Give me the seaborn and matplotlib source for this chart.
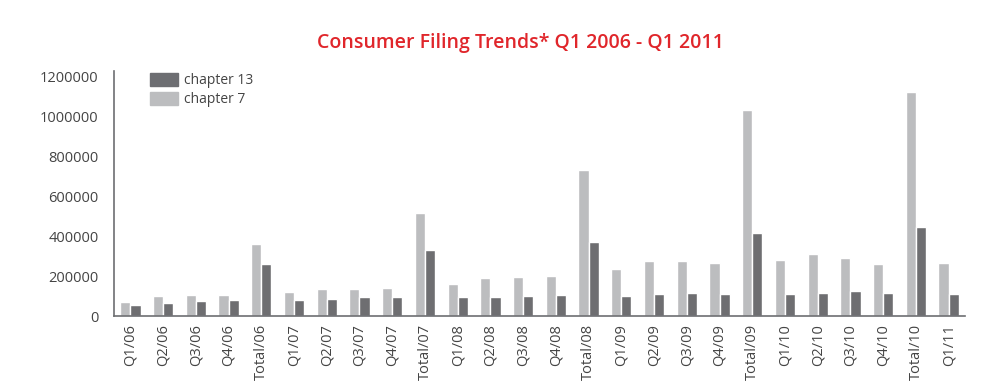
import pandas as pd
import numpy as np
import matplotlib
matplotlib.use("Agg")
import matplotlib.pyplot as plt
import seaborn as sns
from matplotlib.patches import Patch

# --- data ---
periods = ["Q1/06", "Q2/06", "Q3/06", "Q4/06", "Total/06",
           "Q1/07", "Q2/07", "Q3/07", "Q4/07", "Total/07",
           "Q1/08", "Q2/08", "Q3/08", "Q4/08", "Total/08",
           "Q1/09", "Q2/09", "Q3/09", "Q4/09", "Total/09",
           "Q1/10", "Q2/10", "Q3/10", "Q4/10", "Total/10",
           "Q1/11"]
chapter7 = [72500, 99000, 104000, 107500, 361000,
            122500, 137500, 137500, 142500, 516000,
            162500, 192500, 197500, 202500, 732500,
            236000, 277500, 277500, 266000, 1029000,
            282500, 311000, 292500, 261000, 1122500,
            266000]
chapter13 = [56000, 67500, 77500, 82500, 261000,
             82500, 86000, 94000, 96000, 332500,
             94000, 96000, 102500, 106000, 372500,
             101000, 111000, 116000, 112500, 416000,
             109000, 116000, 127500, 116000, 447500,
             109000]
yticks = [0, 200000, 400000, 600000, 800000, 1000000, 1200000]

c7 = "#bcbdbf"
c13 = "#6d6e72"

df = pd.DataFrame({
    "period": periods * 2,
    "filings": chapter7 + chapter13,
    "chapter": ["chapter 7"] * len(periods) + ["chapter 13"] * len(periods),
})

sns.set_style("white")
plt.rcParams["font.family"] = ["Open Sans", "DejaVu Sans"]

fig = plt.figure(figsize=(10, 3.84), dpi=100)
ax = fig.add_axes([0.114, 0.177, 0.851, 0.638])

sns.barplot(data=df, x="period", y="filings", hue="chapter",
            hue_order=["chapter 7", "chapter 13"],
            palette=[c7, c13], width=0.62, gap=0.0,
            order=periods, ax=ax, legend=False)

ax.set_xlim(-0.5, len(periods) - 0.5)
ax.set_ylim(0, 1225000)
ax.set_yticks(yticks)
ax.set_yticklabels([str(v) for v in yticks])
ax.set_xlabel("")
ax.set_ylabel("")
ax.tick_params(axis="x", rotation=90, length=0, labelsize=10.5,
               colors="#444444", pad=6)
ax.tick_params(axis="y", length=0, labelsize=10.5, colors="#444444", pad=11)

for s in ["top", "right"]:
    ax.spines[s].set_visible(False)
for s in ["left", "bottom"]:
    ax.spines[s].set_color("#6d6e72")
    ax.spines[s].set_linewidth(1.2)

handles = [Patch(color=c13, label="chapter 13"), Patch(color=c7, label="chapter 7")]
ax.legend(handles=handles, loc="upper left", bbox_to_anchor=(0.028, 1.045),
          frameon=False, fontsize=10, handlelength=2.0, handleheight=1.1,
          handletextpad=0.4, labelspacing=0.3, labelcolor="#444444")

fig.text(0.52, 0.888, "Consumer Filing Trends* Q1 2006 - Q1 2011",
         ha="center", va="center", color="#e0262b", fontsize=14,
         fontweight="semibold")

fig.savefig("out.png", dpi=100)
